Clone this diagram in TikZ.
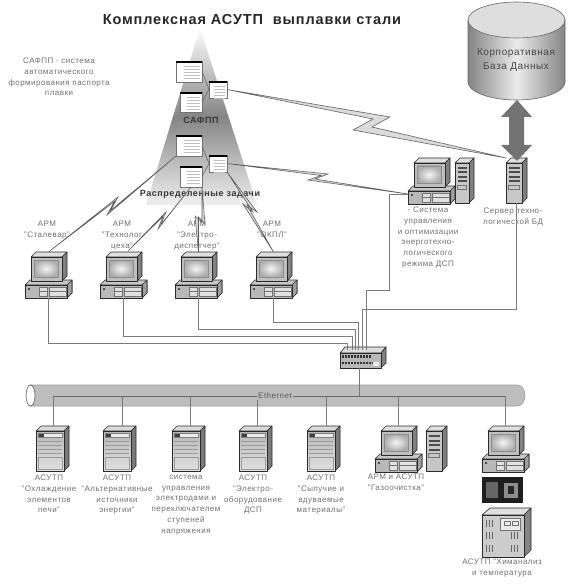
\documentclass[tikz,border=0pt]{standalone}
\usepackage{fontspec}
\setmainfont{Liberation Sans}[LetterSpace=6]
\newfontfamily\ttlfont{Liberation Sans}[LetterSpace=6,BoldFont={Liberation Sans Bold}]
\definecolor{txt}{HTML}{707070}
\definecolor{wirec}{HTML}{7A7A7A}
\definecolor{pipec}{HTML}{BDBDBD}
\definecolor{edge}{HTML}{2A2A2A}
\tikzset{
  hit/.style={inner sep=0pt,outer sep=0pt,anchor=north west,draw=none,fill=none},
  wire/.style={draw=wirec,line width=0.7pt},
  bolt/.style={draw=black!65,fill=black!14,line width=0.55pt,line join=miter},
  thinlink/.style={draw=black!60,line width=0.6pt},
  lab/.style={font=\fontsize{8}{10.7}\selectfont,text=txt,align=center,inner sep=0pt,anchor=north},
  boldlab/.style={font=\fontsize{9}{11}\selectfont\bfseries,text=black!78,align=center,inner sep=0pt},
  hull/.style={draw=edge,line width=0.6pt,line join=round},
  det/.style={draw=black!55,line width=0.35pt}
}
% PC 47x46
\newcommand{\pcbox}[3]{\begin{scope}[shift={(#2,#3)}]
  \fill[hull,fill=black!22] (5,28) -- (47,28) -- (47,41) -- (42,46) -- (42,33) -- (0,33) -- cycle;
  \fill[hull,fill=black!38] (42,33) -- (47,28) -- (47,41) -- (42,46) -- cycle;
  \fill[hull,fill=black!28] (0,33) rectangle (42,46);
  \fill[hull,fill=black!12] (6,5) -- (11,0) -- (42,0) -- (37,5) -- cycle;
  \fill[hull,fill=black!50] (37,5) -- (42,0) -- (42,24) -- (37,29) -- cycle;
  \fill[hull,fill=black!25] (6,5) rectangle (37,29);
  \shade[inner color=black!4,outer color=black!32,draw=black!45,line width=0.4pt] (9,8) rectangle (33,25);
  \draw[det,fill=black!12] (14,35) rectangle (22,39);
  \draw[det,fill=black!12] (14,39.5) rectangle (22,44);
  \draw[det,fill=black!12] (24,35) rectangle (41,39.5);
  \draw[det,fill=black!12] (24,39.5) rectangle (41,44);
  \fill[black!70] (3,36) rectangle (5,38);
  \node[hit,minimum width=47pt,minimum height=46pt] (#1) at (0,0) {};
\end{scope}}
% tower: name x y width
\newcommand{\towerbox}[4]{\begin{scope}[shift={(#2,#3)}]
  \pgfmathsetmacro{\fw}{#4-5}
  \fill[hull,fill=black!12] (0,5) -- (5,0) -- (#4,0) -- (\fw,5) -- cycle;
  \fill[hull,fill=black!50] (\fw,5) -- (#4,0) -- (#4,40) -- (\fw,45) -- cycle;
  \fill[hull,fill=black!22] (0,5) rectangle (\fw,45);
  \foreach \yy in {9,13.5,18,22.5}{\fill[black!70] (2.5,\yy) rectangle (\fw-2.5,\yy+2);}
  \draw[det] (2.5,27) rectangle (\fw-2.5,31);
  \node[hit,minimum width=#4pt,minimum height=45pt] (#1) at (0,0) {};
\end{scope}}
% server 33x45
\newcommand{\srvbox}[3]{\begin{scope}[shift={(#2,#3)}]
  \fill[hull,fill=black!14] (0,5) -- (5,0) -- (33,0) -- (28,5) -- cycle;
  \fill[hull,fill=black!52] (28,5) -- (33,0) -- (33,40) -- (28,45) -- cycle;
  \shade[hull,top color=black!28,bottom color=black!12] (0,5) rectangle (28,45);
  \fill[black!8,draw=black!50,line width=0.3pt] (2,7) rectangle (26,11.5);
  \fill[black!75] (2.5,7.5) rectangle (8,11);
  \foreach \yy in {15,19,23,27}{\draw[det,draw=black!40] (2,\yy) -- (26,\yy);}
  \draw[det,draw=black!40] (2,31) rectangle (26,43);
  \node[hit,minimum width=33pt,minimum height=45pt] (#1) at (0,0) {};
\end{scope}}
% document window
\newcommand{\docwin}[5]{\begin{scope}[shift={(#2,#3)}]
  \fill[white,draw=black!55,line width=0.4pt] (0,0) rectangle (#4,#5);
  \fill[black] (0,0) rectangle (#4,2.4);
  \foreach \yy in {5,8,11,14,17}{\draw[black!25,line width=0.35pt] (#4*0.3,\yy) -- (#4-2,\yy);}
  \node[hit,minimum width=#4pt,minimum height=#5pt] (#1) at (0,0) {};
\end{scope}}
\begin{document}
\begin{tikzpicture}[x=1pt,y=-1pt]
\useasboundingbox (0,0) rectangle (583,585);
\fill[white] (0,0) rectangle (583,585);

% triangle
\shade[top color=white,bottom color=black!6,middle color=black!48] (200,28) -- (146,205) -- (257,205) -- cycle;

% database cylinder
\shade[left color=black!48,right color=black!48,middle color=black!8,draw=black!60,line width=0.6pt]
  (468,20) -- (468,82) .. controls (468,91.9) and (489.7,100) .. (516.5,100)
  .. controls (543.3,100) and (565,91.9) .. (565,82) -- (565,20) -- cycle;
\draw[draw=black!60,line width=0.6pt,fill=black!13] (516.5,20) ellipse (48.5 and 18);
\node[font=\fontsize{10}{14}\selectfont,text=black!72,align=center,inner sep=0pt] (dbtxt) at (516,60) {Корпоративная\\База Данных};
\coordinate (dbbot) at (517,100);

% labels
\node[boldlab,font=\fontsize{14.5}{16}\selectfont\ttlfont\bfseries,text=black!85] (title) at (252,20) {Комплексная АСУТП\ \ выплавки стали};
\node[lab] (t1) at (59,58) {САФПП - система\\автоматического\\формирования паспорта\\плавки};
\node[boldlab] (t2) at (201,120) {САФПП};
\node[boldlab] (t3) at (200,194) {Распределенные задачи};
\node[lab] (la1) at (47,221) {АРМ\\"Сталевар"};
\node[lab] (la2) at (122,221) {АРМ\\"Технолог\\цеха"};
\node[lab] (la3) at (197,221) {АРМ\\"Электро-\\диспетчер"};
\node[lab] (la4) at (272,221) {АРМ\\"ОКПЛ"};
\node[lab] (la5) at (428,207) {- Система\\управления\\и оптимизации\\энерготехно-\\логического\\режима ДСП};
\node[lab] (la6) at (513,208) {Сервер техно-\\логической БД};
\node[lab] (lb1) at (49,475) {АСУТП\\"Охлаждение\\элементов\\печи"};
\node[lab] (lb2) at (117,475) {АСУТП\\"Альтернативные\\источники\\энергии"};
\node[lab] (lb3) at (186,475) {система\\управления\\электродами и\\переключателем\\ступеней\\напряжения};
\node[lab] (lb4) at (253,475) {АСУТП\\"Электро-\\оборудование\\ДСП};
\node[lab] (lb5) at (321,475) {АСУТП\\"Сыпучие и\\вдуваемые\\материалы"};
\node[lab] (lb6) at (396,474) {АРМ и АСУТП\\"Газоочистка"};
\node[lab] (lb7) at (502,559) {АСУТП "Химанализ\\и температура};

% bus pipe
\draw[draw=black!38,fill=pipec,line width=0.6pt] (30,385) -- (517,385) .. controls (522,385) and (525,390) .. (525,395.5) .. controls (525,401) and (522,406) .. (517,406) -- (30,406) -- cycle;
\draw[draw=black!60,fill=white,line width=0.7pt] (30.5,395.5) ellipse (4.5 and 10.5);

% devices
\pcbox{pc1}{25}{252}\pcbox{pc2}{100}{252}\pcbox{pc3}{175}{252}\pcbox{pc4}{250}{252}
\pcbox{pc5}{408}{158}\towerbox{tw5}{455}{158}{19}
\towerbox{srvdb}{506}{158}{21}
\srvbox{s1}{36}{426}\srvbox{s2}{103}{426}\srvbox{s3}{172}{426}\srvbox{s4}{239}{426}\srvbox{s5}{307}{426}
\pcbox{pc6}{375}{426}\towerbox{tw6}{426}{426}{21}
\pcbox{pc7}{482}{426}

% black device
\fill[black!88] (482,477) rectangle (523,503);
\fill[black!60] (486,482) rectangle (498,498);
\fill[black!45] (504,483) rectangle (518,498);
\fill[black!85] (508,486) rectangle (514,494);
\node[hit,minimum width=41pt,minimum height=26pt] (dev) at (482,477) {};

% cabinet
\begin{scope}[shift={(482,508)}]
  \fill[hull,fill=black!12] (0,7) -- (8,0) -- (49,0) -- (42,7) -- cycle;
  \fill[hull,fill=black!48] (42,7) -- (49,0) -- (49,42) -- (42,49) -- cycle;
  \fill[hull,fill=black!20] (0,7) rectangle (42,49);
  \foreach \xx in {4,7,10}{\foreach \yy in {12,24,37}{\draw[black!60,line width=0.6pt] (\xx,\yy) -- (\xx,\yy+7);}}
  \foreach \xx in {29,32,35}{\foreach \yy in {24,37}{\draw[black!60,line width=0.6pt] (\xx,\yy) -- (\xx,\yy+7);}}
  \draw[det,fill=black!8] (18,10) rectangle (38,22);
  \draw[det] (22,13) rectangle (28,17);
  \draw[det] (30,13) rectangle (36,17);
  \node[hit,minimum width=49pt,minimum height=49pt] (cab) at (0,0) {};
\end{scope}

% switch
\begin{scope}[shift={(340,347)}]
  \fill[hull,fill=black!14] (0,6) -- (5,0) -- (46,0) -- (41,6) -- cycle;
  \fill[hull,fill=black!50] (41,6) -- (46,0) -- (46,16) -- (41,21) -- cycle;
  \fill[hull,fill=black!28] (0,6) rectangle (41,21);
  \foreach \xx in {2,5,8,11,14,17,20,23,26,29}{\fill[black!80] (\xx,8) rectangle (\xx+1.7,11);}
  \foreach \xx in {2,5,8,11,14,17,20,23,26,29,32}{\fill[black!80] (\xx,14.5) rectangle (\xx+1.7,17);}
  \fill[black!8] (33,15) rectangle (39,19);
  \node[hit,minimum width=46pt,minimum height=21pt] (sw) at (0,0) {};
\end{scope}

% double arrow
\fill[black!55] (dbbot) -- (532,117) -- (524,117) -- (524,145) -- (532,145) -- (517,161) -- (501,145) -- (509,145) -- (509,117) -- (501,117) -- cycle;

% windows
\docwin{w1}{176}{61}{26}{21}\docwin{w2}{180}{92}{22}{20}\docwin{w3}{209}{81}{18}{17}
\docwin{w4}{176}{135}{26}{21}\docwin{w5}{180}{166}{22}{21}\docwin{w6}{209}{155}{18}{17}
\draw[thinlink] (w1.east) -- (w3.west);
\draw[thinlink] (w2.east) -- (w3.west);
\draw[thinlink] (w4.east) -- (w6.west);
\draw[thinlink] (w5.east) -- (w6.west);

% lightning links
\coordinate (pc5in) at (408,194);
\coordinate (pc2in) at (128,251);
\draw[bolt] (w3.east) -- (390,117) -- (372,127) -- (srvdb.north west) -- (353,130) -- (373,119) -- cycle;
\draw[bolt] (w6.east) -- (328,174) -- (315,179) -- (pc5in) -- (308,180) -- (321,175.5) -- cycle;
\draw[bolt] (w4.south west) -- (107,215) -- (114.5,201.5) -- (pc1.north) -- (118,197) -- (110.5,210.5) -- cycle;
\draw[bolt] (w5.south) -- (158,229) -- (163,216.5) -- (pc2in) -- (166,212) -- (161,224.5) -- cycle;
\draw[bolt] (w5.south east) -- (205,224) -- (198.5,217) -- (pc3.north) -- (195,216) -- (202,222) -- cycle;
\draw[bolt] (w6.south east) -- (257,212) -- (247,205) -- (pc4.north) -- (243,204) -- (253,212) -- cycle;

% wires to switch
\coordinate (p1) at (347,350);\coordinate (p2) at (352,350);\coordinate (p3) at (355,350);
\coordinate (p4) at (358,350);\coordinate (p5) at (362,350);\coordinate (p6) at (366,350);
\draw[wire] (pc1.south) -- ++(0,45) -| (p1);
\draw[wire] (pc2.south) -- ++(0,38) -| (p2);
\draw[wire] (pc3.south) -- ++(0,31) -| (p3);
\draw[wire] (pc4.south) -- ++(0,24) -| (p4);
\draw[wire] (srvdb.south) -- ++(0,106) -| (p5);
\draw[wire] (p6) -- (366,290) -- (389,290) -- (389,194) -- (pc5in);

% bus
\coordinate (b1) at (53,396);\coordinate (b2) at (122,396);\coordinate (b3) at (190,396);
\coordinate (b4) at (257,396);\coordinate (b5) at (326,396);\coordinate (b6) at (398,396);
\coordinate (b7) at (505,396);\coordinate (bs) at (359,396);
\draw[wire,draw=black!60] (b1) -- (b7);
\draw[wire] (b1) -- (b1 |- s1.north);
\draw[wire] (b2) -- (b2 |- s2.north);
\draw[wire] (b3) -- (b3 |- s3.north);
\draw[wire] (b4) -- (b4 |- s4.north);
\draw[wire] (b5) -- (b5 |- s5.north);
\draw[wire] (b6) -- (b6 |- pc6.north);
\draw[wire] (b7) -- (b7 |- pc7.north);
\draw[wire] (bs |- sw.south) -- (bs);
\node[font=\fontsize{8}{10}\selectfont,text=black!65,fill=pipec,inner sep=1pt] (eth) at (275,396) {Ethernet};
\end{tikzpicture}
\end{document}
